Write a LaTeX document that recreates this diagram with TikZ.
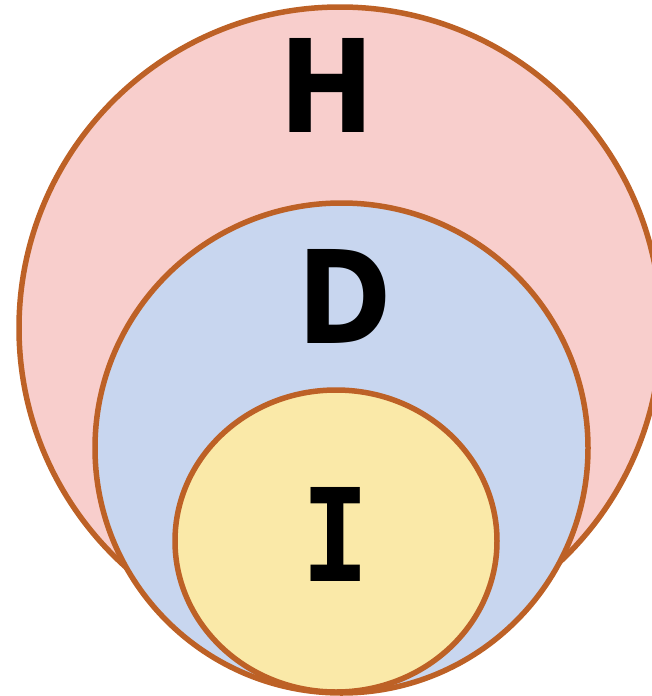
\documentclass[tikz,border=0pt]{standalone}
\usepackage{fontspec}
\usepackage{graphicx}
\setmainfont{DejaVu Sans}
\newfontfamily\slabfont{DejaVu Sans Mono}
\definecolor{hfill}{HTML}{F8CECC}
\definecolor{dfill}{HTML}{C8D6EF}
\definecolor{ifill}{HTML}{FAE9A8}
\definecolor{rim}{HTML}{BD6126}
\newcommand{\narrow}[1]{\scalebox{0.88}[1]{#1}}
\begin{document}
\begin{tikzpicture}[x=1pt,y=-1pt,
  setdisc/.style={draw=rim,line width=5.5pt},
  setname/.style={inner sep=0pt,anchor=base,
    font=\fontsize{129}{130}\selectfont\bfseries}]
\useasboundingbox (0,0) rectangle (651,696);
% nested sets, outermost first
\draw[setdisc,fill=hfill] (340,328) circle (321);
\draw[setdisc,fill=dfill] (341.5,448) ellipse (246.5 and 245);
\draw[setdisc,fill=ifill] (336,541) ellipse (161 and 151);
% set labels
\node[setname] (h) at (327,132) {\narrow{H}};
\node[setname] (d) at (344.5,343) {\narrow{D}};
\node[setname,font=\fontsize{129}{130}\selectfont\bfseries\slabfont] (i) at (336,581) {\narrow{I}};
\end{tikzpicture}
\end{document}
